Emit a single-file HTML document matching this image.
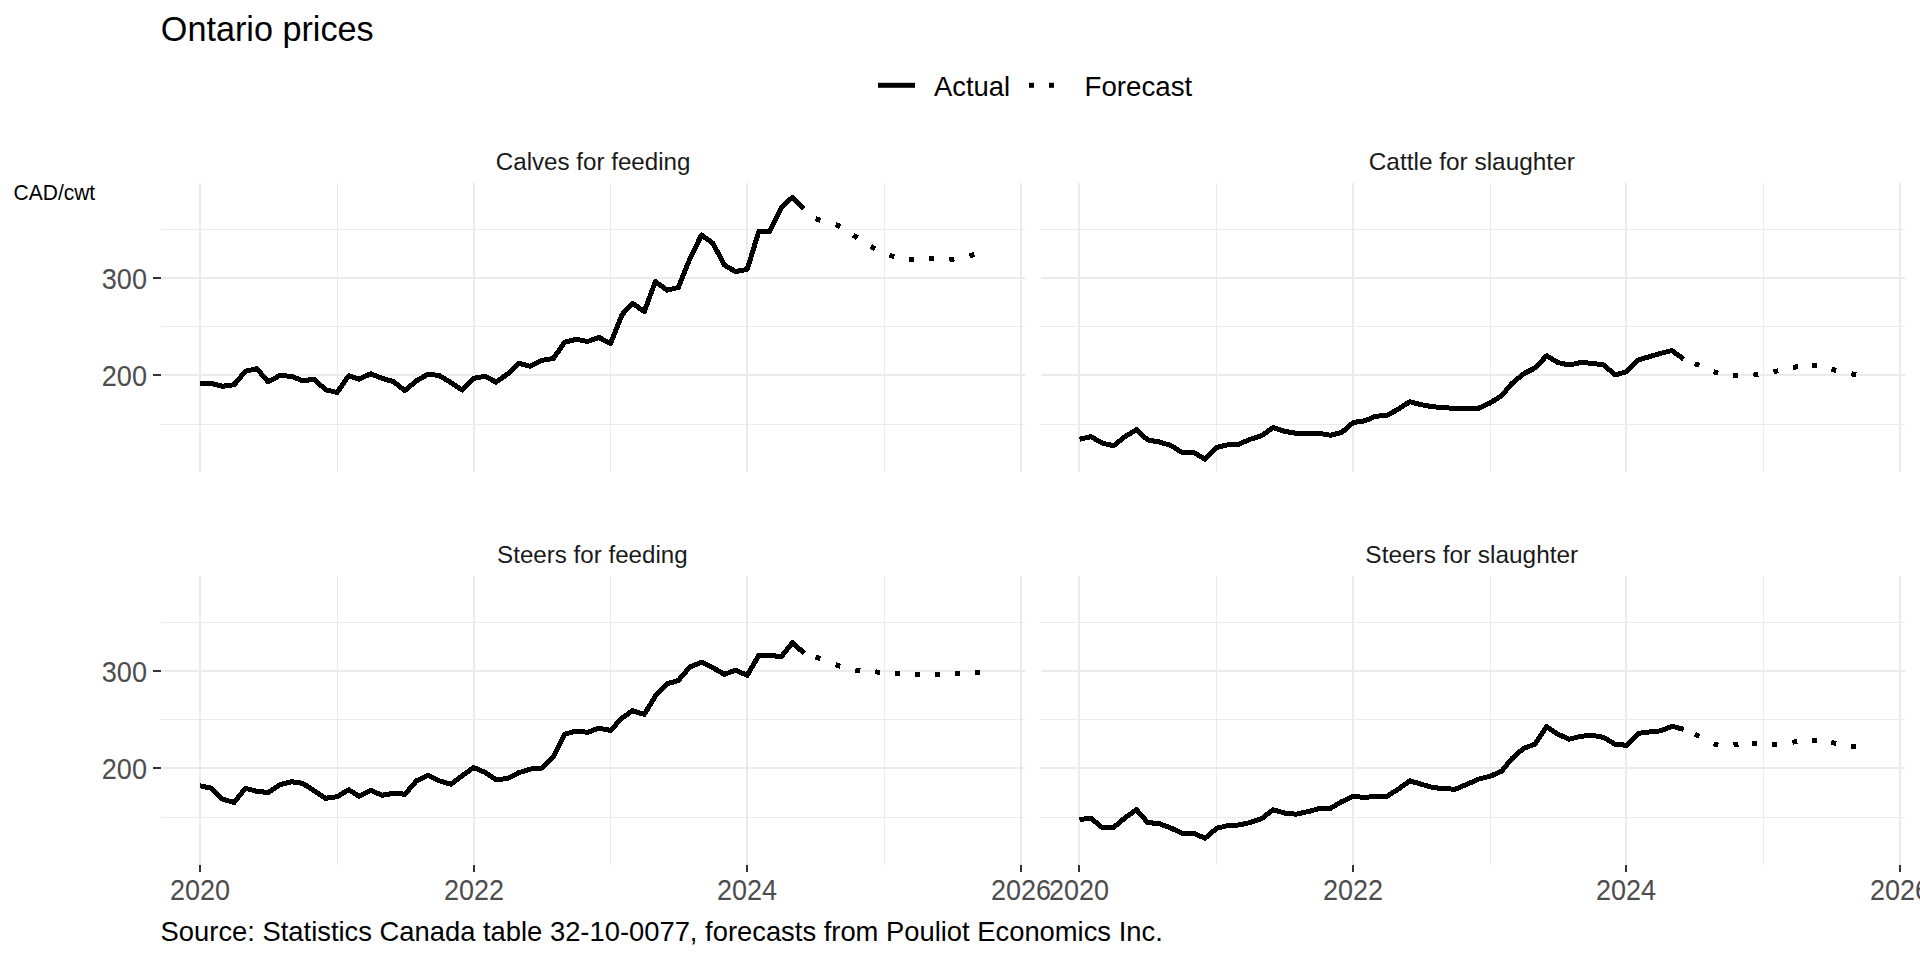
<!DOCTYPE html>
<html lang="en"><head><meta charset="utf-8"><title>Ontario prices</title>
<style>html,body{margin:0;padding:0;background:#fff;overflow:hidden}svg{display:block}</style>
</head><body>
<svg width="1920" height="960" viewBox="0 0 1920 960" font-family="'Liberation Sans', Arial, sans-serif">
<rect width="1920" height="960" fill="#fff"/>
<g shape-rendering="crispEdges">
<rect x="161" y="229" width="864" height="1" fill="#EBEBEB"/>
<rect x="161" y="326" width="864" height="1" fill="#EBEBEB"/>
<rect x="161" y="424" width="864" height="1" fill="#EBEBEB"/>
<rect x="337" y="183" width="1" height="289" fill="#EBEBEB"/>
<rect x="610" y="183" width="1" height="289" fill="#EBEBEB"/>
<rect x="884" y="183" width="1" height="289" fill="#EBEBEB"/>
<rect x="162" y="277" width="863" height="2" fill="#EBEBEB"/>
<rect x="162" y="374" width="863" height="2" fill="#EBEBEB"/>
<rect x="199" y="183" width="2" height="289" fill="#EBEBEB"/>
<rect x="473" y="183" width="2" height="289" fill="#EBEBEB"/>
<rect x="746" y="183" width="2" height="289" fill="#EBEBEB"/>
<rect x="1020" y="183" width="2" height="289" fill="#EBEBEB"/>
</g>
<polyline points="200.0,383.5 211.6,383.5 222.5,386.3 234.1,384.7 245.3,371.3 256.9,368.7 268.2,381.8 279.8,375.5 291.4,376.3 302.6,380.8 314.2,379.2 325.5,389.7 337.1,392.5 348.7,375.8 359.2,379.2 370.8,373.7 382.0,378.3 393.6,381.7 404.9,390.6 416.5,380.8 428.1,374.2 439.3,375.5 450.9,382.5 462.2,390.0 473.8,378.3 485.4,376.3 495.9,382.1 507.5,374.1 518.7,363.3 530.3,366.3 541.6,360.4 553.2,358.5 564.8,342.2 576.0,339.3 587.7,341.5 598.9,337.4 610.5,343.6 622.1,314.5 632.6,303.3 644.2,311.6 655.4,281.6 667.1,290.2 678.3,287.5 689.9,258.8 701.5,235.0 712.8,243.1 724.4,265.0 735.6,271.6 747.2,269.4 758.8,231.5 769.7,231.5 781.3,207.5 792.5,197.2 804.1,208.8" fill="none" stroke="#000" stroke-width="5" stroke-linejoin="round" stroke-linecap="butt" shape-rendering="crispEdges"/>
<rect x="-2.5" y="-2.5" width="5" height="5" fill="#000" shape-rendering="crispEdges" transform="translate(818.0 219.5) rotate(16.8)"/>
<rect x="-2.5" y="-2.5" width="5" height="5" fill="#000" shape-rendering="crispEdges" transform="translate(837.9 225.5) rotate(24.4)"/>
<rect x="-2.5" y="-2.5" width="5" height="5" fill="#000" shape-rendering="crispEdges" transform="translate(855.4 236.5) rotate(32.1)"/>
<rect x="-2.5" y="-2.5" width="5" height="5" fill="#000" shape-rendering="crispEdges" transform="translate(873.1 247.6) rotate(28.1)"/>
<rect x="-2.5" y="-2.5" width="5" height="5" fill="#000" shape-rendering="crispEdges" transform="translate(891.9 256.0) rotate(17.1)"/>
<rect x="-2.5" y="-2.5" width="5" height="5" fill="#000" shape-rendering="crispEdges" transform="translate(911.4 259.5) rotate(4.0)"/>
<rect x="-2.5" y="-2.5" width="5" height="5" fill="#000" shape-rendering="crispEdges" transform="translate(931.4 258.7) rotate(-0.3)"/>
<rect x="-2.5" y="-2.5" width="5" height="5" fill="#000" shape-rendering="crispEdges" transform="translate(951.9 259.2) rotate(-5.1)"/>
<rect x="-2.5" y="-2.5" width="5" height="5" fill="#000" shape-rendering="crispEdges" transform="translate(971.9 255.1) rotate(-11.7)"/>
<text x="593.1" y="169.7" font-size="24.15" text-anchor="middle" fill="#1A1A1A">Calves for feeding</text>
<rect x="153" y="277" width="8" height="2" fill="#333" shape-rendering="crispEdges"/>
<text transform="translate(147.0 289.0) scale(1 1.09)" font-size="27.1" text-anchor="end" fill="#4D4D4D">300</text>
<rect x="153" y="374" width="8" height="2" fill="#333" shape-rendering="crispEdges"/>
<text transform="translate(147.0 386.0) scale(1 1.09)" font-size="27.1" text-anchor="end" fill="#4D4D4D">200</text>
<g shape-rendering="crispEdges">
<rect x="1040" y="229" width="865" height="1" fill="#EBEBEB"/>
<rect x="1040" y="326" width="865" height="1" fill="#EBEBEB"/>
<rect x="1040" y="424" width="865" height="1" fill="#EBEBEB"/>
<rect x="1216" y="183" width="1" height="289" fill="#EBEBEB"/>
<rect x="1490" y="183" width="1" height="289" fill="#EBEBEB"/>
<rect x="1763" y="183" width="1" height="289" fill="#EBEBEB"/>
<rect x="1041" y="277" width="864" height="2" fill="#EBEBEB"/>
<rect x="1041" y="374" width="864" height="2" fill="#EBEBEB"/>
<rect x="1078" y="183" width="2" height="289" fill="#EBEBEB"/>
<rect x="1352" y="183" width="2" height="289" fill="#EBEBEB"/>
<rect x="1625" y="183" width="2" height="289" fill="#EBEBEB"/>
<rect x="1899" y="183" width="2" height="289" fill="#EBEBEB"/>
</g>
<polyline points="1079.5,439.2 1091.1,436.7 1102.0,443.0 1113.6,445.8 1124.8,436.7 1136.4,429.7 1147.7,440.0 1159.3,442.0 1170.9,445.5 1182.1,452.5 1193.7,452.5 1205.0,459.2 1216.6,447.5 1228.2,444.7 1238.7,444.2 1250.3,439.2 1261.5,435.8 1273.1,427.5 1284.4,431.3 1296.0,433.3 1307.6,433.3 1318.8,433.3 1330.4,435.3 1341.7,432.5 1353.3,422.5 1364.9,420.8 1375.4,416.3 1387.0,415.4 1398.2,409.2 1409.8,401.7 1421.1,404.7 1432.7,406.7 1444.3,407.8 1455.5,408.3 1467.2,408.3 1478.4,408.3 1490.0,403.0 1501.6,395.8 1512.1,383.3 1523.7,373.7 1534.9,368.0 1546.6,355.8 1557.8,362.5 1569.4,365.0 1581.0,362.5 1592.3,363.3 1603.9,365.0 1615.1,375.0 1626.7,371.7 1638.3,360.0 1649.2,356.7 1660.8,353.3 1672.0,350.5 1683.6,359.2" fill="none" stroke="#000" stroke-width="5" stroke-linejoin="round" stroke-linecap="butt" shape-rendering="crispEdges"/>
<rect x="-2.5" y="-2.5" width="5" height="5" fill="#000" shape-rendering="crispEdges" transform="translate(1697.0 364.5) rotate(22.9)"/>
<rect x="-2.5" y="-2.5" width="5" height="5" fill="#000" shape-rendering="crispEdges" transform="translate(1715.9 372.4) rotate(15.9)"/>
<rect x="-2.5" y="-2.5" width="5" height="5" fill="#000" shape-rendering="crispEdges" transform="translate(1735.4 375.4) rotate(3.4)"/>
<rect x="-2.5" y="-2.5" width="5" height="5" fill="#000" shape-rendering="crispEdges" transform="translate(1755.9 374.8) rotate(-5.9)"/>
<rect x="-2.5" y="-2.5" width="5" height="5" fill="#000" shape-rendering="crispEdges" transform="translate(1775.9 371.2) rotate(-11.2)"/>
<rect x="-2.5" y="-2.5" width="5" height="5" fill="#000" shape-rendering="crispEdges" transform="translate(1795.5 367.0) rotate(-8.4)"/>
<rect x="-2.5" y="-2.5" width="5" height="5" fill="#000" shape-rendering="crispEdges" transform="translate(1814.4 365.5) rotate(4.4)"/>
<rect x="-2.5" y="-2.5" width="5" height="5" fill="#000" shape-rendering="crispEdges" transform="translate(1833.8 369.9) rotate(12.5)"/>
<rect x="-2.5" y="-2.5" width="5" height="5" fill="#000" shape-rendering="crispEdges" transform="translate(1853.7 374.3) rotate(12.4)"/>
<text x="1471.8" y="169.7" font-size="24.4" text-anchor="middle" fill="#1A1A1A">Cattle for slaughter</text>
<g shape-rendering="crispEdges">
<rect x="161" y="622" width="864" height="1" fill="#EBEBEB"/>
<rect x="161" y="719" width="864" height="1" fill="#EBEBEB"/>
<rect x="161" y="817" width="864" height="1" fill="#EBEBEB"/>
<rect x="337" y="576" width="1" height="289" fill="#EBEBEB"/>
<rect x="610" y="576" width="1" height="289" fill="#EBEBEB"/>
<rect x="884" y="576" width="1" height="289" fill="#EBEBEB"/>
<rect x="162" y="670" width="863" height="2" fill="#EBEBEB"/>
<rect x="162" y="767" width="863" height="2" fill="#EBEBEB"/>
<rect x="199" y="576" width="2" height="289" fill="#EBEBEB"/>
<rect x="473" y="576" width="2" height="289" fill="#EBEBEB"/>
<rect x="746" y="576" width="2" height="289" fill="#EBEBEB"/>
<rect x="1020" y="576" width="2" height="289" fill="#EBEBEB"/>
</g>
<polyline points="200.0,785.8 211.6,788.3 222.5,799.2 234.1,802.5 245.3,788.3 256.9,791.3 268.2,792.5 279.8,784.7 291.4,781.7 302.6,783.3 314.2,790.8 325.5,798.3 337.1,796.7 348.7,789.7 359.2,796.3 370.8,790.3 382.0,795.3 393.6,793.3 404.9,794.2 416.5,780.8 428.1,775.3 439.3,780.8 450.9,784.2 462.2,775.8 473.8,767.5 485.4,772.5 495.9,779.8 507.5,778.5 518.7,772.7 530.3,769.1 541.6,768.0 553.2,756.7 564.8,734.1 576.0,731.1 587.7,732.3 598.9,728.2 610.5,730.4 622.1,718.0 632.6,710.7 644.2,714.4 655.4,696.1 667.1,683.8 678.3,680.5 689.9,667.0 701.5,662.2 712.8,667.7 724.4,674.3 735.6,670.3 747.2,675.3 758.8,655.4 769.7,655.4 781.3,656.6 792.5,642.7 804.1,653.2" fill="none" stroke="#000" stroke-width="5" stroke-linejoin="round" stroke-linecap="butt" shape-rendering="crispEdges"/>
<rect x="-2.5" y="-2.5" width="5" height="5" fill="#000" shape-rendering="crispEdges" transform="translate(818.0 657.9) rotate(20.5)"/>
<rect x="-2.5" y="-2.5" width="5" height="5" fill="#000" shape-rendering="crispEdges" transform="translate(837.9 665.4) rotate(17.6)"/>
<rect x="-2.5" y="-2.5" width="5" height="5" fill="#000" shape-rendering="crispEdges" transform="translate(857.8 670.5) rotate(9.6)"/>
<rect x="-2.5" y="-2.5" width="5" height="5" fill="#000" shape-rendering="crispEdges" transform="translate(877.8 672.1) rotate(4.8)"/>
<rect x="-2.5" y="-2.5" width="5" height="5" fill="#000" shape-rendering="crispEdges" transform="translate(897.8 673.9) rotate(3.3)"/>
<rect x="-2.5" y="-2.5" width="5" height="5" fill="#000" shape-rendering="crispEdges" transform="translate(917.4 674.4) rotate(0.4)"/>
<rect x="-2.5" y="-2.5" width="5" height="5" fill="#000" shape-rendering="crispEdges" transform="translate(937.7 674.2) rotate(-0.8)"/>
<rect x="-2.5" y="-2.5" width="5" height="5" fill="#000" shape-rendering="crispEdges" transform="translate(957.7 673.9) rotate(-2.5)"/>
<rect x="-2.5" y="-2.5" width="5" height="5" fill="#000" shape-rendering="crispEdges" transform="translate(977.6 672.4) rotate(-4.3)"/>
<text x="592.4" y="562.7" font-size="24.15" text-anchor="middle" fill="#1A1A1A">Steers for feeding</text>
<rect x="153" y="670" width="8" height="2" fill="#333" shape-rendering="crispEdges"/>
<text transform="translate(147.0 682.0) scale(1 1.09)" font-size="27.1" text-anchor="end" fill="#4D4D4D">300</text>
<rect x="153" y="767" width="8" height="2" fill="#333" shape-rendering="crispEdges"/>
<text transform="translate(147.0 779.0) scale(1 1.09)" font-size="27.1" text-anchor="end" fill="#4D4D4D">200</text>
<rect x="199" y="865" width="2" height="7" fill="#333" shape-rendering="crispEdges"/>
<text transform="translate(200.0 900.0) scale(1 1.09)" font-size="27.0" text-anchor="middle" fill="#4D4D4D">2020</text>
<rect x="473" y="865" width="2" height="7" fill="#333" shape-rendering="crispEdges"/>
<text transform="translate(474.0 900.0) scale(1 1.09)" font-size="27.0" text-anchor="middle" fill="#4D4D4D">2022</text>
<rect x="746" y="865" width="2" height="7" fill="#333" shape-rendering="crispEdges"/>
<text transform="translate(747.0 900.0) scale(1 1.09)" font-size="27.0" text-anchor="middle" fill="#4D4D4D">2024</text>
<rect x="1020" y="865" width="2" height="7" fill="#333" shape-rendering="crispEdges"/>
<text transform="translate(1021.0 900.0) scale(1 1.09)" font-size="27.0" text-anchor="middle" fill="#4D4D4D">2026</text>
<g shape-rendering="crispEdges">
<rect x="1040" y="622" width="865" height="1" fill="#EBEBEB"/>
<rect x="1040" y="719" width="865" height="1" fill="#EBEBEB"/>
<rect x="1040" y="817" width="865" height="1" fill="#EBEBEB"/>
<rect x="1216" y="576" width="1" height="289" fill="#EBEBEB"/>
<rect x="1490" y="576" width="1" height="289" fill="#EBEBEB"/>
<rect x="1763" y="576" width="1" height="289" fill="#EBEBEB"/>
<rect x="1041" y="670" width="864" height="2" fill="#EBEBEB"/>
<rect x="1041" y="767" width="864" height="2" fill="#EBEBEB"/>
<rect x="1078" y="576" width="2" height="289" fill="#EBEBEB"/>
<rect x="1352" y="576" width="2" height="289" fill="#EBEBEB"/>
<rect x="1625" y="576" width="2" height="289" fill="#EBEBEB"/>
<rect x="1899" y="576" width="2" height="289" fill="#EBEBEB"/>
</g>
<polyline points="1079.5,819.5 1091.1,818.3 1102.0,827.5 1113.6,827.5 1124.8,818.0 1136.4,809.7 1147.7,822.5 1159.3,823.7 1170.9,828.0 1182.1,833.3 1193.7,833.3 1205.0,838.3 1216.6,828.3 1228.2,825.5 1238.7,825.0 1250.3,822.5 1261.5,818.7 1273.1,809.7 1284.4,813.0 1296.0,814.2 1307.6,811.7 1318.8,808.7 1330.4,808.3 1341.7,801.7 1353.3,796.3 1364.9,797.5 1375.4,796.3 1387.0,796.3 1398.2,789.2 1409.8,780.8 1421.1,784.2 1432.7,787.5 1444.3,788.7 1455.5,789.2 1467.2,784.2 1478.4,779.2 1490.0,776.3 1501.6,771.3 1512.1,758.3 1523.7,748.3 1534.9,744.2 1546.6,726.7 1557.8,734.2 1569.4,739.2 1581.0,736.3 1592.3,735.3 1603.9,737.5 1615.1,744.2 1626.7,745.3 1638.3,733.3 1649.2,732.0 1660.8,730.8 1672.0,726.3 1683.6,729.2" fill="none" stroke="#000" stroke-width="5" stroke-linejoin="round" stroke-linecap="butt" shape-rendering="crispEdges"/>
<rect x="-2.5" y="-2.5" width="5" height="5" fill="#000" shape-rendering="crispEdges" transform="translate(1697.0 735.3) rotate(25.9)"/>
<rect x="-2.5" y="-2.5" width="5" height="5" fill="#000" shape-rendering="crispEdges" transform="translate(1715.9 744.5) rotate(13.7)"/>
<rect x="-2.5" y="-2.5" width="5" height="5" fill="#000" shape-rendering="crispEdges" transform="translate(1736.0 744.8) rotate(-1.5)"/>
<rect x="-2.5" y="-2.5" width="5" height="5" fill="#000" shape-rendering="crispEdges" transform="translate(1754.5 743.5) rotate(-0.5)"/>
<rect x="-2.5" y="-2.5" width="5" height="5" fill="#000" shape-rendering="crispEdges" transform="translate(1774.5 744.5) rotate(-2.3)"/>
<rect x="-2.5" y="-2.5" width="5" height="5" fill="#000" shape-rendering="crispEdges" transform="translate(1794.9 741.9) rotate(-5.8)"/>
<rect x="-2.5" y="-2.5" width="5" height="5" fill="#000" shape-rendering="crispEdges" transform="translate(1814.4 740.5) rotate(1.6)"/>
<rect x="-2.5" y="-2.5" width="5" height="5" fill="#000" shape-rendering="crispEdges" transform="translate(1833.8 743.0) rotate(8.7)"/>
<rect x="-2.5" y="-2.5" width="5" height="5" fill="#000" shape-rendering="crispEdges" transform="translate(1853.5 746.5) rotate(10.1)"/>
<text x="1471.8" y="562.7" font-size="24.4" text-anchor="middle" fill="#1A1A1A">Steers for slaughter</text>
<rect x="1078" y="865" width="2" height="7" fill="#333" shape-rendering="crispEdges"/>
<text transform="translate(1079.0 900.0) scale(1 1.09)" font-size="27.0" text-anchor="middle" fill="#4D4D4D">2020</text>
<rect x="1352" y="865" width="2" height="7" fill="#333" shape-rendering="crispEdges"/>
<text transform="translate(1353.0 900.0) scale(1 1.09)" font-size="27.0" text-anchor="middle" fill="#4D4D4D">2022</text>
<rect x="1625" y="865" width="2" height="7" fill="#333" shape-rendering="crispEdges"/>
<text transform="translate(1626.0 900.0) scale(1 1.09)" font-size="27.0" text-anchor="middle" fill="#4D4D4D">2024</text>
<rect x="1899" y="865" width="2" height="7" fill="#333" shape-rendering="crispEdges"/>
<text transform="translate(1900.0 900.0) scale(1 1.09)" font-size="27.0" text-anchor="middle" fill="#4D4D4D">2026</text>
<text transform="translate(160.8 40.7) scale(1 1.03)" font-size="34.2" fill="#000">Ontario prices</text>
<text transform="translate(13.6 200.0) scale(1 1.03)" font-size="21" fill="#000">CAD/cwt</text>
<rect x="878" y="82.8" width="37" height="5" fill="#000"/>
<text x="934" y="95.5" font-size="27.4" fill="#000">Actual</text>
<rect x="1029" y="82.8" width="5" height="5" fill="#000"/><rect x="1049" y="82.8" width="5" height="5" fill="#000"/>
<text x="1084.5" y="95.5" font-size="27.7" fill="#000">Forecast</text>
<text x="160.6" y="940.8" font-size="27.37" fill="#000">Source: Statistics Canada table 32-10-0077, forecasts from Pouliot Economics Inc.</text>
</svg>
</body></html>
